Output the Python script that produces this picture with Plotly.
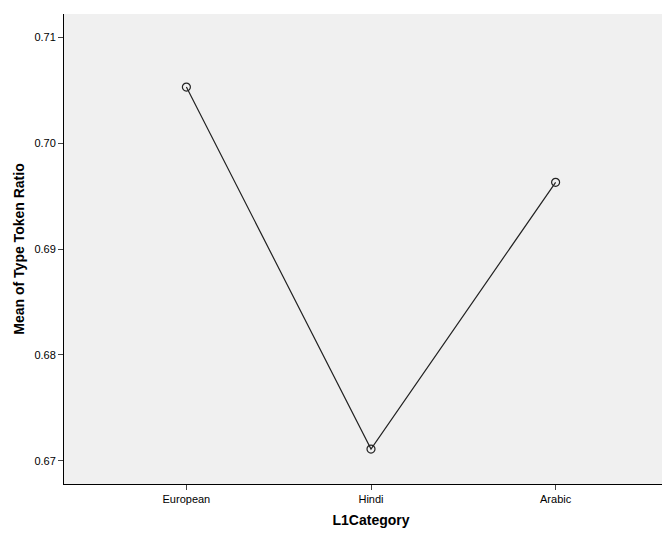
import plotly.graph_objects as go

categories = ["European", "Hindi", "Arabic"]
means = [0.7053, 0.6711, 0.6963]
yticks = [0.67, 0.68, 0.69, 0.70, 0.71]

fig = go.Figure(go.Scatter(
    x=[0, 1, 2], y=means, mode="lines+markers",
    line=dict(color="#222222", width=1.2),
    marker=dict(symbol="circle-open", size=8, color="#222222", line=dict(width=1.2)),
))
fig.update_layout(
    width=670, height=537, margin=dict(l=56, r=0, t=6, b=61),
    paper_bgcolor="white", plot_bgcolor="#f0f0f0", showlegend=False,
    font=dict(family="Liberation Sans, Arial, sans-serif", color="black", size=11),
)
fig.update_xaxes(
    range=[-0.663, 2.663], tickvals=[0, 1, 2], ticktext=categories,
    ticks="outside", ticklen=5, showgrid=False, zeroline=False,
    showline=True, linecolor="black", linewidth=1,
    title=dict(text="<b>L1Category</b>", font=dict(size=14), standoff=10),
)
fig.update_yaxes(
    range=[0.6678, 0.7122], tickvals=yticks, ticktext=[f"{v:.2f}" for v in yticks],
    ticks="outside", ticklen=5, showgrid=False, zeroline=False,
    showline=True, linecolor="black", linewidth=1,
    title=dict(text="<b>Mean of Type Token Ratio</b>", font=dict(size=14), standoff=6),
)
fig.write_html("out.html")
